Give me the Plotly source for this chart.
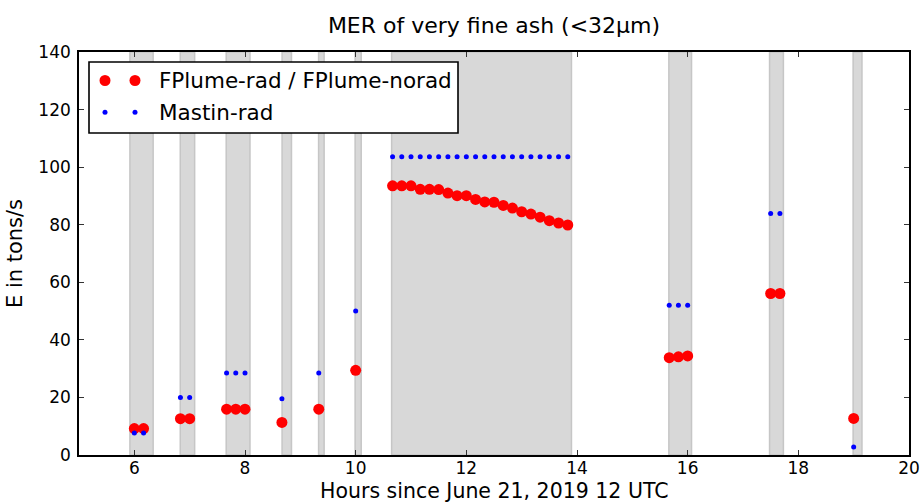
import plotly.graph_objects as go

# Data
fplume_x = [6.0, 6.167, 6.833, 7.0, 7.667, 7.833, 8.0, 8.667, 9.333, 10.0,
            10.667, 10.833, 11.0, 11.167, 11.333, 11.5, 11.667, 11.833, 12.0, 12.167,
            12.333, 12.5, 12.667, 12.833, 13.0, 13.167, 13.333, 13.5, 13.667, 13.833,
            15.667, 15.833, 16.0, 17.5, 17.667, 19.0]
fplume_y = [9.2, 9.2, 12.6, 12.6, 15.9, 15.9, 15.9, 11.3, 15.9, 29.4,
            93.5, 93.5, 93.5, 92.3, 92.3, 92.2, 91.0, 90.1, 90.1, 88.8,
            87.9, 87.8, 86.7, 85.8, 84.5, 83.7, 82.6, 81.4, 80.6, 79.9,
            33.8, 34.1, 34.4, 56.1, 56.1, 12.7]

mastin_x = [6.0, 6.167, 6.833, 7.0, 7.667, 7.833, 8.0, 8.667, 9.333, 10.0,
            10.667, 10.833, 11.0, 11.167, 11.333, 11.5, 11.667, 11.833, 12.0, 12.167,
            12.333, 12.5, 12.667, 12.833, 13.0, 13.167, 13.333, 13.5, 13.667, 13.833,
            15.667, 15.833, 16.0, 17.5, 17.667, 19.0]
mastin_y = [7.6, 7.6, 20.0, 20.0, 28.5, 28.5, 28.5, 19.5, 28.5, 50.0,
            103.6, 103.6, 103.6, 103.6, 103.6, 103.6, 103.6, 103.6, 103.6, 103.6,
            103.6, 103.6, 103.6, 103.6, 103.6, 103.6, 103.6, 103.6, 103.6, 103.6,
            52.0, 52.0, 52.0, 83.9, 83.9, 2.8]

band_start = [5.92, 6.83, 7.66, 8.67, 9.33, 9.99, 10.65, 15.66, 17.48, 18.99]
band_end = [6.34, 7.09, 8.09, 8.84, 9.43, 10.10, 13.90, 16.07, 17.73, 19.15]

x_ticks = [6, 8, 10, 12, 14, 16, 18, 20]
y_ticks = [0, 20, 40, 60, 80, 100, 120, 140]

legend_labels = ["FPlume-rad / FPlume-norad", "Mastin-rad"]
x_title = "Hours since June 21, 2019 12 UTC"

FONT = "DejaVu Sans"
W, H = 920, 504
ML, MR, MT, MB = 79, 11, 52, 49
PW, PH = W - ML - MR, H - MT - MB

fig = go.Figure()

shapes = []
for s, e in zip(band_start, band_end):
    shapes.append(dict(type="rect", xref="x", yref="paper", x0=s, x1=e, y0=0, y1=1,
                       fillcolor="#d8d8d8", line=dict(color="#c6c6c6", width=1.5),
                       layer="below"))

fig.add_trace(go.Scatter(x=fplume_x, y=fplume_y, mode="markers",
                         marker=dict(color="#ff0000", size=11, line=dict(width=0)),
                         name=legend_labels[0], showlegend=False))
fig.add_trace(go.Scatter(x=mastin_x, y=mastin_y, mode="markers",
                         marker=dict(color="#0000ff", size=5, line=dict(width=0)),
                         name=legend_labels[1], showlegend=False))

# Custom legend (matplotlib style with two symbols per entry)
def px2paper(px, py):
    return (px - ML) / PW, 1 - (py - MT) / PH

lx0, ly0 = px2paper(89, 62)
lx1, ly1 = px2paper(458, 133)
shapes.append(dict(type="rect", xref="paper", yref="paper", x0=lx0, x1=lx1, y0=ly1, y1=ly0,
                   fillcolor="white", line=dict(color="black", width=1.6), layer="above"))
entries = [(80.5, "#ff0000", 5.5, legend_labels[0]), (112.3, "#0000ff", 2.5, legend_labels[1])]
annotations = []
for cy, col, r, lab in entries:
    for cx in (105, 135):
        a0, b0 = px2paper(cx - r, cy + r)
        a1, b1 = px2paper(cx + r, cy - r)
        shapes.append(dict(type="circle", xref="paper", yref="paper", x0=a0, x1=a1, y0=b0, y1=b1,
                           fillcolor=col, line=dict(width=0), layer="above"))
    tx, ty = px2paper(157, cy)
    annotations.append(dict(x=tx, y=ty, xref="paper", yref="paper", text=lab, showarrow=False,
                            xanchor="left", yanchor="middle",
                            font=dict(family=FONT, size=21.5, color="black")))

# x-axis title placed as an annotation just below the tick labels
_, xty = px2paper(0, 505)
annotations.append(dict(x=0.5, y=xty, xref="paper", yref="paper", text=x_title, showarrow=False,
                        xanchor="center", yanchor="bottom",
                        font=dict(family=FONT, size=20.5, color="black")))

fig.update_layout(
    width=W, height=H,
    margin=dict(l=ML, r=MR, t=MT, b=MB, autoexpand=False),
    paper_bgcolor="white", plot_bgcolor="white",
    font=dict(family=FONT, size=17, color="black"),
    title=dict(text="MER of very fine ash (<32μm)", x=(ML + PW / 2) / W, xanchor="center",
               y=1 - 25 / H, yanchor="middle", font=dict(family=FONT, size=22, color="black")),
    shapes=shapes,
    annotations=annotations,
    showlegend=False,
)
fig.update_xaxes(range=[5, 20], tickvals=x_ticks, ticktext=[str(v) for v in x_ticks],
                 automargin=False,
                 showgrid=False, zeroline=False, showline=True, linecolor="black", linewidth=1.6,
                 mirror="ticks", ticks="inside", ticklen=5, tickcolor="#333333", tickwidth=1,
                 ticklabelstandoff=-3,
                 tickfont=dict(family=FONT, size=17, color="black"))
fig.update_yaxes(range=[0, 140], tickvals=y_ticks, ticktext=[str(v) for v in y_ticks],
                 automargin=False,
                 showgrid=False, zeroline=False, showline=True, linecolor="black", linewidth=1.6,
                 mirror="ticks", ticks="inside", ticklen=5, tickcolor="#333333", tickwidth=1,
                 ticklabelstandoff=3,
                 tickfont=dict(family=FONT, size=17, color="black"),
                 title=dict(text="E in tons/s", standoff=10,
                            font=dict(family=FONT, size=21, color="black")))

fig.write_html("out.html")
